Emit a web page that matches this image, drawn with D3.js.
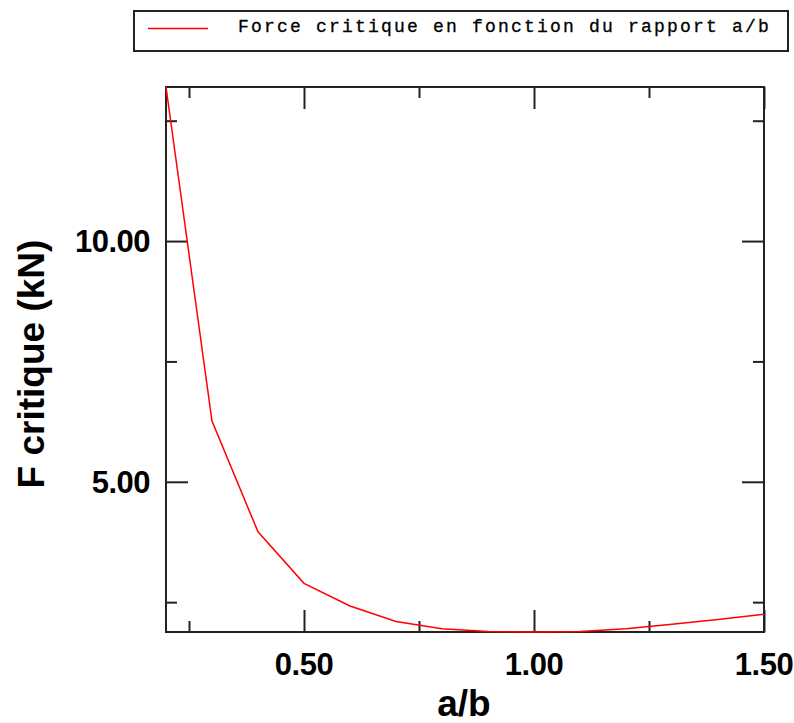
<!DOCTYPE html>
<html>
<head>
<meta charset="utf-8">
<script src="https://cdn.jsdelivr.net/npm/d3@7"></script>
<style>
  body { margin: 0; background: #fff; }
  svg { display: block; }
  .tick-label { font-family: "Liberation Sans", Arial, sans-serif; font-weight: bold; font-size: 31px; letter-spacing: -0.5px; fill: #000; }
  .axis-title { font-family: "Liberation Sans", Arial, sans-serif; font-weight: bold; font-size: 37px; fill: #000; }
  .legend-text { font-family: "Liberation Mono", "Courier New", monospace; font-size: 18px; letter-spacing: 2.2px; fill: #000; stroke: #000; stroke-width: 0.3px; }
</style>
</head>
<body>
<div id="chart"></div>
<script>
// a/b ratio and critical force (kN)
const ratios = [0.2, 0.3, 0.4, 0.5, 0.6, 0.7, 0.8, 0.9, 1.0, 1.1, 1.2, 1.3, 1.4, 1.5];
const forces = [13.2, 6.26, 3.96, 2.89, 2.42, 2.10, 1.95, 1.89, 1.88, 1.89, 1.95, 2.04, 2.14, 2.25];

const xMajor = [0.5, 1.0, 1.5];
const xMinor = [0.25, 0.75, 1.25];
const yMajor = [5, 10];
const yMinor = [2.5, 7.5, 12.5];

const legendLabel = "Force critique en fonction du rapport a/b";

const W = 794, H = 723;
const margin = { top: 87, right: 30, bottom: 91, left: 166 };
const width = W - margin.left - margin.right;
const height = H - margin.top - margin.bottom;

const svg = d3.select("#chart").append("svg")
  .attr("width", W)
  .attr("height", H);

const g = svg.append("g")
  .attr("transform", `translate(${margin.left},${margin.top})`);

const x = d3.scaleLinear()
  .domain([0.2, 1.5])
  .range([0, width]);

const y = d3.scaleLinear()
  .domain(d3.extent(forces))
  .range([height, 0]);

// ticks point inward on all four sides
function tickAxis(axisFn, scale, values, size, transform) {
  const a = g.append("g")
    .attr("transform", transform || null)
    .call(axisFn(scale).tickValues(values).tickSize(-size).tickFormat(""));
  a.select(".domain").remove();
  a.selectAll("line").attr("stroke", "#222").attr("stroke-width", 2);
}

tickAxis(d3.axisBottom, x, xMajor, 22, `translate(0,${height})`);
tickAxis(d3.axisBottom, x, xMinor, 11, `translate(0,${height})`);
tickAxis(d3.axisTop, x, xMajor, 22);
tickAxis(d3.axisTop, x, xMinor, 11);
tickAxis(d3.axisLeft, y, yMajor, 22);
tickAxis(d3.axisLeft, y, yMinor, 11);
tickAxis(d3.axisRight, y, yMajor, 22, `translate(${width},0)`);
tickAxis(d3.axisRight, y, yMinor, 11, `translate(${width},0)`);

// frame
g.append("rect")
  .attr("width", width)
  .attr("height", height)
  .attr("fill", "none")
  .attr("stroke", "#222")
  .attr("stroke-width", 2);

// tick labels
g.selectAll(".xlab").data(xMajor).enter().append("text")
  .attr("class", "tick-label")
  .attr("x", d => x(d))
  .attr("y", height + 43)
  .attr("text-anchor", "middle")
  .text(d => d.toFixed(2));

g.selectAll(".ylab").data(yMajor).enter().append("text")
  .attr("class", "tick-label")
  .attr("x", -16)
  .attr("y", d => y(d) + 11)
  .attr("text-anchor", "end")
  .text(d => d.toFixed(2));

// axis titles
svg.append("text")
  .attr("class", "axis-title")
  .attr("x", 464)
  .attr("y", 716)
  .attr("text-anchor", "middle")
  .text("a/b");

svg.append("text")
  .attr("class", "axis-title")
  .attr("transform", "translate(44,364) rotate(-90)")
  .attr("text-anchor", "middle")
  .text("F critique (kN)");

// curve
const line = d3.line()
  .x((d, i) => x(ratios[i]))
  .y(d => y(d));

g.append("path")
  .datum(forces)
  .attr("fill", "none")
  .attr("stroke", "#ff0000")
  .attr("stroke-width", 1.5)
  .attr("d", line);

// legend
const legend = svg.append("g");
legend.append("rect")
  .attr("x", 134).attr("y", 11)
  .attr("width", 654).attr("height", 40)
  .attr("fill", "#fff")
  .attr("stroke", "#222")
  .attr("stroke-width", 2);
legend.append("line")
  .attr("x1", 148).attr("x2", 208)
  .attr("y1", 28.5).attr("y2", 28.5)
  .attr("stroke", "#ff0000")
  .attr("stroke-width", 1.5);
legend.append("text")
  .attr("class", "legend-text")
  .attr("x", 238)
  .attr("y", 32)
  .text(legendLabel);
</script>
</body>
</html>
